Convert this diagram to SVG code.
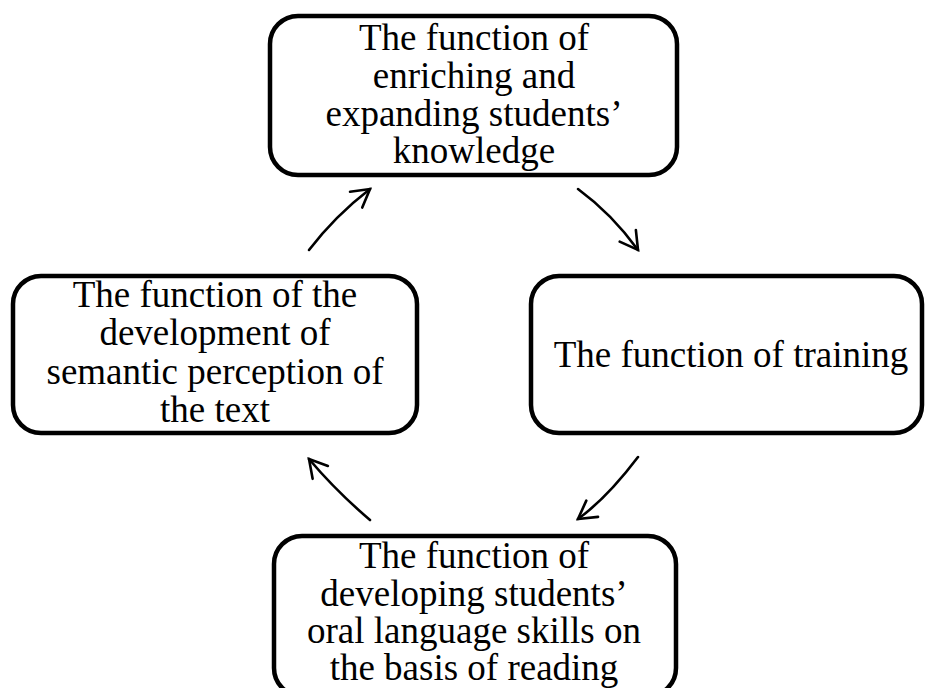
<svg xmlns="http://www.w3.org/2000/svg" width="926" height="688" viewBox="0 0 926 688">
  <defs>
    <style>
      .box { fill: #ffffff; stroke: #000000; stroke-width: 4.5; }
      .lbl { font-family: "Liberation Serif", "Times New Roman", serif; font-size: 37px; fill: #000000; text-anchor: middle; }
      .conn { fill: none; stroke: #000000; stroke-width: 2.6; stroke-linecap: round; }
    </style>
    <marker id="head" markerUnits="userSpaceOnUse" viewBox="-20 -12 22 24" refX="0" refY="0" markerWidth="22" markerHeight="24" orient="auto" overflow="visible">
      <path d="M-17.5,-10 L0,0 L-17.5,10" fill="none" stroke="#000000" stroke-width="2.6" stroke-linecap="round" stroke-linejoin="miter"/>
    </marker>
  </defs>
  <rect width="926" height="688" fill="#ffffff"/>

  <g id="node-top">
    <rect class="box" x="270" y="16" width="407" height="159" rx="28" ry="28"/>
    <text class="lbl" x="474" y="50">The function of</text>
    <text class="lbl" x="474" y="88">enriching and</text>
    <text class="lbl" x="474" y="126">expanding students’</text>
    <text class="lbl" x="474" y="163">knowledge</text>
  </g>

  <g id="node-right">
    <rect class="box" x="531" y="276" width="391" height="157" rx="28" ry="28"/>
    <text class="lbl" x="731" y="367">The function of training</text>
  </g>

  <g id="node-bottom">
    <rect class="box" x="274" y="536" width="402" height="160" rx="28" ry="28"/>
    <text class="lbl" x="474" y="568">The function of</text>
    <text class="lbl" x="474" y="606">developing students’</text>
    <text class="lbl" x="474" y="643">oral language skills on</text>
    <text class="lbl" x="474" y="680">the basis of reading</text>
  </g>

  <g id="node-left">
    <rect class="box" x="13" y="276" width="404" height="157" rx="28" ry="28"/>
    <text class="lbl" x="215" y="307">The function of the</text>
    <text class="lbl" x="215" y="345">development of</text>
    <text class="lbl" x="215" y="384">semantic perception of</text>
    <text class="lbl" x="215" y="422">the text</text>
  </g>

  <g id="connectors">
    <path class="conn" d="M309,250 Q335,216 370,189" marker-end="url(#head)"/>
    <path class="conn" d="M578,189 Q612,214 638,250" marker-end="url(#head)"/>
    <path class="conn" d="M638,457 Q607,498 578,519" marker-end="url(#head)"/>
    <path class="conn" d="M370,520 Q336,491 309,459" marker-end="url(#head)"/>
  </g>
</svg>
